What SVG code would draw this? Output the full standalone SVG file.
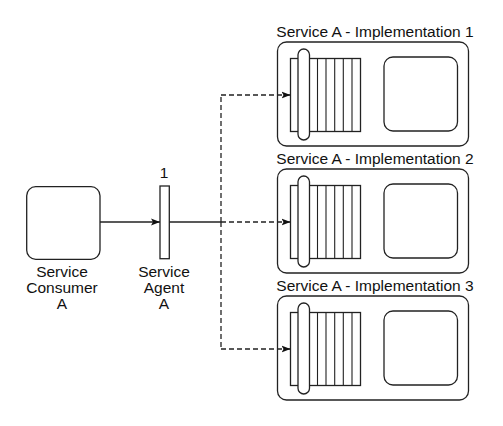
<svg xmlns="http://www.w3.org/2000/svg" width="503" height="426" viewBox="0 0 503 426">
<defs>
<style>
.s{fill:#fff;stroke:#222;stroke-width:1.3}
.q{fill:none;stroke:#222;stroke-width:1.1}
.c{fill:none;stroke:#222;stroke-width:1.3}
.d{fill:none;stroke:#222;stroke-width:1.3;stroke-dasharray:5 3}
.t{font-family:"Liberation Sans",Arial,sans-serif;font-size:15.5px;fill:#111;text-anchor:middle}
</style>
<marker id="ah" markerUnits="userSpaceOnUse" markerWidth="10" markerHeight="8" refX="9" refY="4" orient="auto">
<path d="M0,0.5 L9,4 L0,7.5 L2,4 z" fill="#111"/>
</marker>
<g id="impl">
<rect class="s" x="277.5" y="0" width="191" height="104" rx="9"/>
<rect class="s" x="290.5" y="16.5" width="70" height="73"/>
<path class="q" d="M309,16.5V89.5M317.5,16.5V89.5M326,16.5V89.5M334.7,16.5V89.5M343.3,16.5V89.5M352,16.5V89.5"/>
<rect class="s" x="298" y="7" width="11.5" height="91" rx="5.75"/>
<rect class="s" x="384" y="15" width="73.5" height="74" rx="9"/>
</g>
</defs>
<rect width="503" height="426" fill="#fff"/>
<g id="consumer">
<rect class="s" x="26.7" y="186.7" width="73.3" height="72.6" rx="9"/>
<text class="t" x="62" y="277">Service</text>
<text class="t" x="62" y="293">Consumer</text>
<text class="t" x="62" y="309">A</text>
</g>
<g id="agent">
<rect class="s" x="160" y="186" width="9.3" height="72.7"/>
<text class="t" x="164" y="177.5">1</text>
<text class="t" x="164" y="277">Service</text>
<text class="t" x="164" y="293">Agent</text>
<text class="t" x="164" y="309">A</text>
</g>
<g id="impl1">
<use href="#impl" y="42"/>
<text class="t" x="375" y="37">Service A - Implementation 1</text>
</g>
<g id="impl2">
<use href="#impl" y="169"/>
<text class="t" x="375" y="164">Service A - Implementation 2</text>
</g>
<g id="impl3">
<use href="#impl" y="296"/>
<text class="t" x="375" y="291">Service A - Implementation 3</text>
</g>
<g id="connectors">
<line class="c" x1="100" y1="222" x2="160" y2="222" marker-end="url(#ah)"/>
<line class="c" x1="169.3" y1="222" x2="221" y2="222"/>
<path class="d" d="M221,222V95"/>
<path class="d" d="M221,222V349"/>
<line class="d" x1="221" y1="95" x2="290.5" y2="95" marker-end="url(#ah)"/>
<line class="d" x1="221" y1="222" x2="290.5" y2="222" marker-end="url(#ah)"/>
<line class="d" x1="221" y1="349" x2="290.5" y2="349" marker-end="url(#ah)"/>
</g>
</svg>
